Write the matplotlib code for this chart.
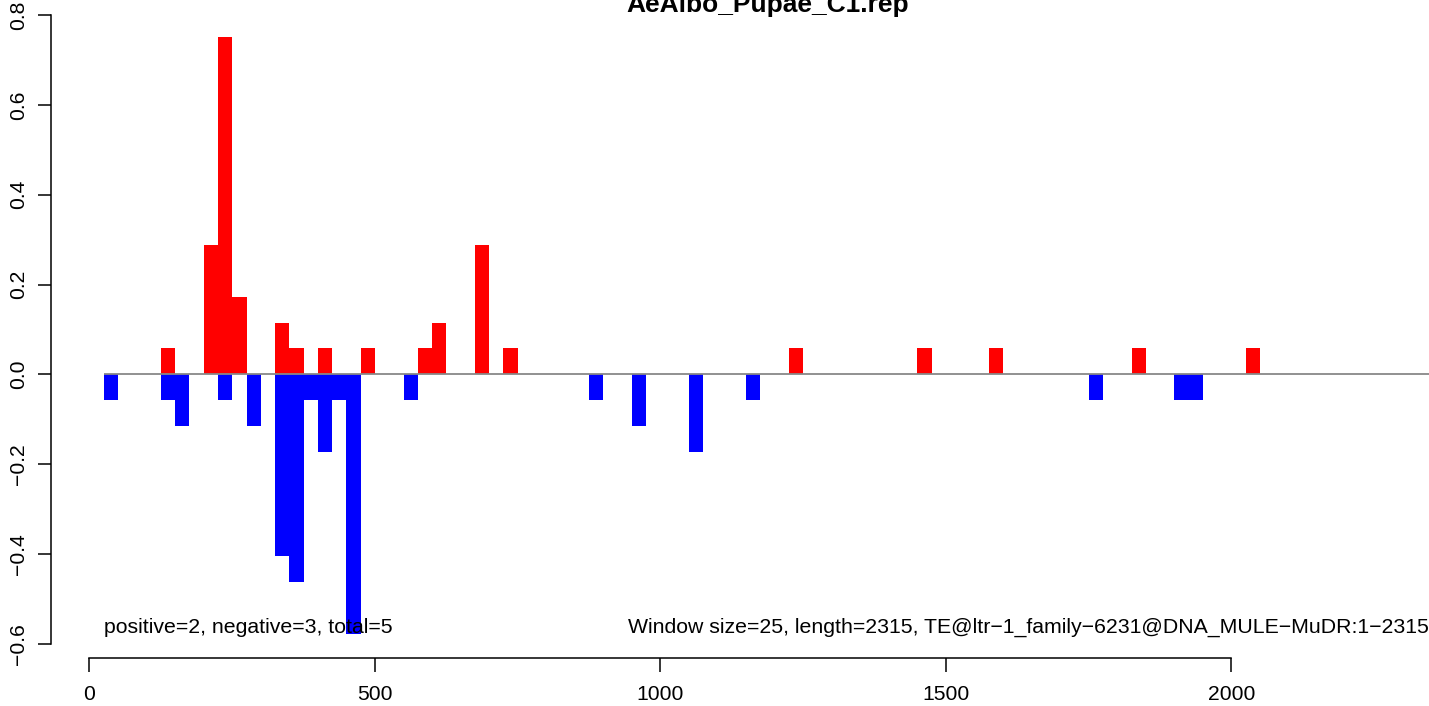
""" Strand-split coverage bars for one TE, drawn R-barplot style. """

import matplotlib
matplotlib.use('Agg')
import matplotlib.pyplot as plt

# Data: window start positions and bar heights
window = 25
pos_starts = [125, 200, 225, 250, 325, 350, 400, 475, 575, 600, 675, 725,
              1225, 1450, 1575, 1825, 2025]
pos_values = [0.0577, 0.2885, 0.75, 0.1731, 0.1154, 0.0577, 0.0577, 0.0577,
              0.0577, 0.1154, 0.2885, 0.0577, 0.0577, 0.0577, 0.0577, 0.0577,
              0.0577]
neg_starts = [25, 125, 150, 225, 275, 325, 350, 375, 400, 425, 450, 550,
              875, 950, 1050, 1150, 1750, 1900, 1925]
neg_values = [-0.0577, -0.0577, -0.1154, -0.0577, -0.1154, -0.4038, -0.4615,
              -0.0577, -0.1731, -0.0577, -0.5769, -0.0577, -0.0577, -0.1154,
              -0.1731, -0.0577, -0.0577, -0.0577, -0.0577]

title = 'AeAlbo_Pupae_C1.rep'
left_note = 'positive=2, negative=3, total=5'
right_note = 'Window size=25, length=2315, TE@ltr\u22121_family\u22126231@DNA_MULE\u2212MuDR:1\u22122315'
x_ticks = [0, 500, 1000, 1500, 2000]
y_ticks = [-0.6, -0.4, -0.2, 0.0, 0.2, 0.4, 0.6, 0.8]

plt.rcParams['font.family'] = ['Liberation Sans', 'DejaVu Sans']

W, H = 1429, 706
fig = plt.figure(figsize=(W / 100, H / 100), dpi=100)
ax = fig.add_axes([50.7 / W, 48 / H, 1 - 50.7 / W, 658 / H])

ax.bar(pos_starts, pos_values, width=window, align='edge', color='red',
       linewidth=0, zorder=2)
ax.bar(neg_starts, neg_values, width=window, align='edge', color='blue',
       linewidth=0, zorder=2)

ax.set_xlim(-67.95, 2345.9)
ax.set_ylim(-0.6312, 0.8334)
ax.hlines(0, 25, 2345.9, color='#888888', linewidth=1.3, zorder=3)

# R-style detached axes
for side in ['top', 'right']:
    ax.spines[side].set_visible(False)
ax.spines['left'].set_bounds(-0.6, 0.8)
ax.spines['bottom'].set_bounds(0, 2000)
ax.spines['left'].set_linewidth(1.1)
ax.spines['bottom'].set_linewidth(1.1)

ax.set_xticks(x_ticks)
ax.set_xticklabels([str(t) for t in x_ticks])
ax.set_yticks(y_ticks)
ax.set_yticklabels([f'{t:.1f}'.replace('-', '\u2212') for t in y_ticks],
                   rotation=90, va='center')
ax.tick_params(axis='x', length=9.8, width=1.1, pad=10, labelsize=15.2)
ax.tick_params(axis='y', length=9.5, width=1.1, pad=7, labelsize=15.2)

ax.text(25, -0.5625, left_note, fontsize=15.3, ha='left', va='center')
ax.text(1.0, -0.5625, right_note, fontsize=15.3, ha='right', va='center',
        transform=ax.get_yaxis_transform())

fig.text(768 / W, 1 - 12 / H, title, fontsize=19, fontweight='bold',
         ha='center', va='baseline')

fig.savefig('out.png', dpi=100)
